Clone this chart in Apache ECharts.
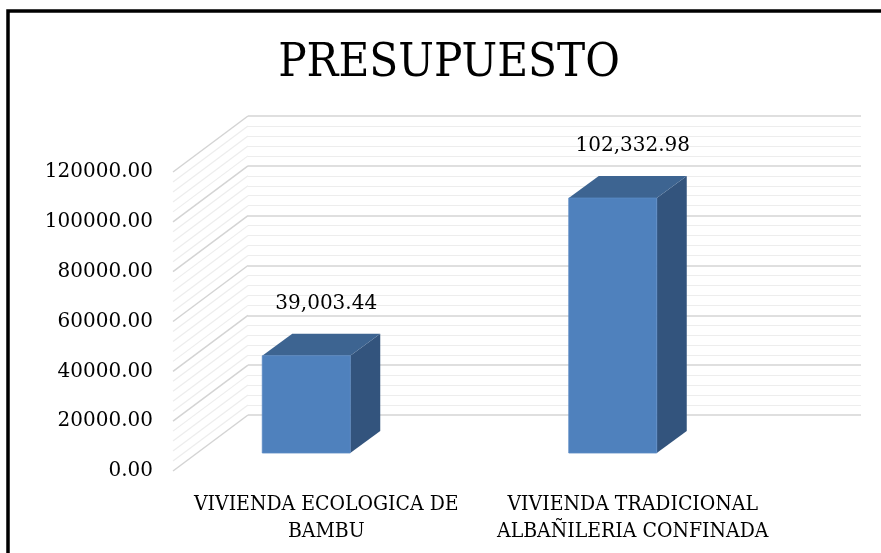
<!DOCTYPE html>
<html>
<head>
<meta charset="utf-8">
<script src="https://cdn.jsdelivr.net/npm/echarts@6/dist/echarts.min.js"></script>
<style>
  html, body { margin: 0; padding: 0; background: #fff; }
  #chart { width: 881px; height: 553px; }
</style>
</head>
<body>
<div id="chart"></div>
<script>
// datos del gráfico
const categories = ['VIVIENDA ECOLOGICA DE\nBAMBU', 'VIVIENDA TRADICIONAL\nALBAÑILERIA CONFINADA']
const budgets = [39003.44, 102332.98]
const budgetLabels = ['39,003.44', '102,332.98']
const yMin = 0
const yMax = 120000
const yStep = 20000

const FONT = 'DejaVu Serif'
const FONT_NARROW = '"DejaVu Serif Condensed", "DejaVu Serif"'
// desplazamiento de la pared del fondo (perspectiva 3D)
const WALL_DX = 75
const WALL_DY = -56

const chart = echarts.init(document.getElementById('chart'))

function renderSideWall(params, api) {
  const cs = params.coordSys
  const children = []
  const minorStep = yStep / 5
  for (let v = yMin; v <= yMax; v += minorStep) {
    const y = api.coord([0, v])[1]
    const major = v % yStep === 0
    children.push({
      type: 'line',
      shape: { x1: cs.x, y1: y, x2: cs.x + WALL_DX, y2: y + WALL_DY },
      style: { stroke: major ? '#d4d4d4' : '#ededed', lineWidth: major ? 1.5 : 1.2 }
    })
  }
  return { type: 'group', children: children }
}

function renderBar(params, api) {
  const idx = api.value(0)
  const base = api.coord([idx, 0])
  const top = api.coord([idx, api.value(1)])
  const w = 88
  const dx = 30
  const dy = -22
  const x0 = base[0] - 20 - w / 2
  const x1 = x0 + w
  const yb = base[1] - 18
  const yt = top[1] - 18
  return {
    type: 'group',
    children: [
      {
        type: 'polygon',
        shape: { points: [[x1, yt], [x1 + dx, yt + dy], [x1 + dx, yb + dy], [x1, yb]] },
        style: { fill: '#33547d' }
      },
      {
        type: 'polygon',
        shape: { points: [[x0, yt], [x0 + dx, yt + dy], [x1 + dx, yt + dy], [x1, yt]] },
        style: { fill: '#3d6491' }
      },
      {
        type: 'rect',
        shape: { x: x0, y: yt, width: w, height: yb - yt },
        style: { fill: '#4f81bd', stroke: '#5a8ac4', lineWidth: 0.8 }
      },
      {
        type: 'text',
        style: {
          x: top[0],
          y: top[1] - 70,
          text: budgetLabels[params.dataIndex],
          fill: '#000',
          font: '20px "' + FONT + '"',
          align: 'center',
          verticalAlign: 'middle'
        }
      }
    ]
  }
}

chart.setOption({
  animation: false,
  backgroundColor: '#fff',
  graphic: [
    {
      type: 'rect',
      shape: { x: 8, y: 11, width: 900, height: 600 },
      style: { fill: 'none', stroke: '#000', lineWidth: 3.5 }
    },
    {
      type: 'text',
      x: 449,
      y: 64,
      style: {
        text: 'PRESUPUESTO',
        fill: '#000',
        font: '47px ' + FONT_NARROW,
        align: 'center',
        verticalAlign: 'middle'
      }
    }
  ],
  grid: [
    { left: 173, right: 95, top: 172, bottom: 82 },
    { left: 248, right: 20, top: 116, bottom: 138 }
  ],
  xAxis: [
    {
      type: 'category',
      gridIndex: 0,
      data: categories,
      axisLine: { show: false },
      axisTick: { show: false },
      axisLabel: {
        color: '#000',
        fontFamily: FONT_NARROW,
        fontSize: 21,
        lineHeight: 27,
        margin: 20,
        interval: 0
      }
    },
    { type: 'value', gridIndex: 1, min: 0, max: 1, show: false }
  ],
  yAxis: [
    {
      type: 'value',
      gridIndex: 0,
      min: yMin,
      max: yMax,
      interval: yStep,
      axisLine: { show: false },
      axisTick: { show: false },
      splitLine: { show: false },
      axisLabel: {
        color: '#000',
        fontFamily: FONT,
        fontSize: 20,
        margin: 20,
        formatter: v => v.toFixed(2)
      }
    },
    {
      type: 'value',
      gridIndex: 1,
      min: yMin,
      max: yMax,
      interval: yStep,
      axisLine: { show: false },
      axisTick: { show: false },
      axisLabel: { show: false },
      splitLine: { lineStyle: { color: '#d4d4d4', width: 1.5 } },
      minorTick: { show: false, splitNumber: 5 },
      minorSplitLine: { show: true, lineStyle: { color: '#ededed', width: 1.2 } }
    }
  ],
  series: [
    {
      type: 'custom',
      xAxisIndex: 0,
      yAxisIndex: 0,
      silent: true,
      renderItem: renderSideWall,
      data: [[0, 0]],
      z: 1
    },
    {
      type: 'custom',
      xAxisIndex: 0,
      yAxisIndex: 0,
      renderItem: renderBar,
      data: categories.map((c, i) => [i, budgets[i]]),
      z: 5
    }
  ]
})
</script>
</body>
</html>
